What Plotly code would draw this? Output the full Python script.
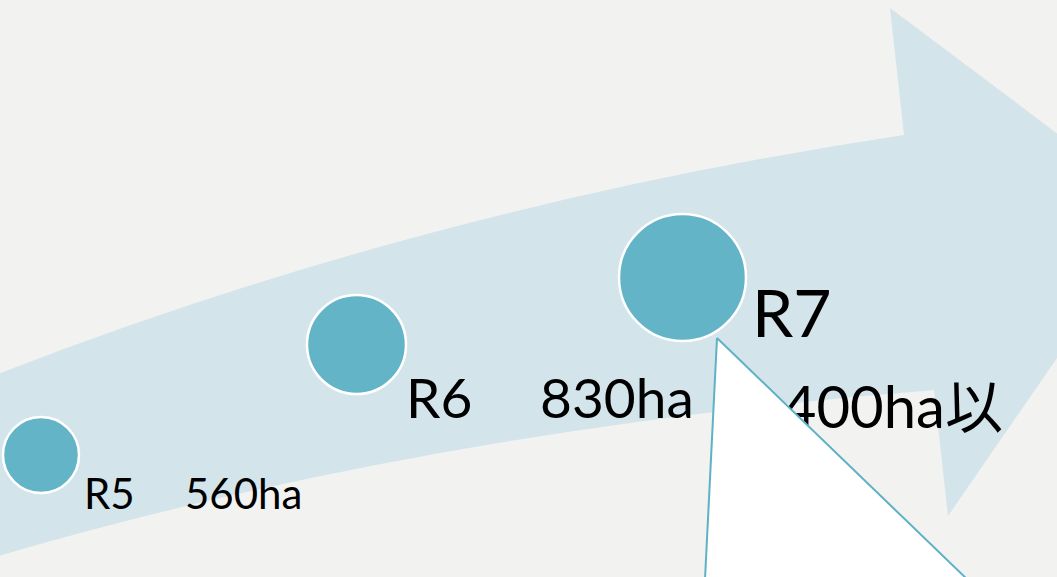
import plotly.graph_objects as go

# ---- data ----
regions = ["R5", "R6", "R7"]
areas_ha = [560, 830, 1400]
area_labels = ["560ha", "830ha", "1,400ha以<br>上"]

# diagram coordinates (pixel-like units on a 1057 x 577 canvas)
circle_x = [41, 356.5, 682.5]
circle_y = [455, 344.5, 277.5]
circle_size = [76, 99, 127]

name_x = [84, 406, 752]
name_base = [509, 418, 337]
name_fs = [42, 55, 66]

value_x = [185, 540, 736]
value_base = [509, 418, 428]
value_fs = [42, 55, 58]

BG = "#f2f2f0"
ARROW = "#d3e4eb"
DOT = "#63b4c7"
FONT = "Lato, 'Noto Sans CJK JP', sans-serif"

fig = go.Figure()

# big curved arrow (background decoration)
arrow_path = ("M -2,374 Q 427,207 904,135 L 890,8 L 1159,210 L 948,516 "
              "L 934,390 Q 430,430 -2,556 Z")
fig.add_shape(type="path", path=arrow_path, xref="x", yref="y",
              fillcolor=ARROW, opacity=1, line=dict(width=0), layer="below")

# circles
fig.add_trace(go.Scatter(
    x=circle_x, y=circle_y, mode="markers",
    marker=dict(size=circle_size, color=DOT, opacity=1,
                line=dict(color="white", width=2.5)),
    hoverinfo="skip"))

# region names
fig.add_trace(go.Scatter(
    x=name_x, y=[b - 0.75 * f for b, f in zip(name_base, name_fs)],
    mode="text", text=regions, textposition="bottom right",
    textfont=dict(family=FONT, size=name_fs, color="black"),
    hoverinfo="skip"))

# area values
fig.add_trace(go.Scatter(
    x=value_x, y=[b - 0.75 * f for b, f in zip(value_base, value_fs)],
    mode="text", text=area_labels, textposition="bottom right",
    textfont=dict(family=FONT, size=value_fs, color="black"),
    hoverinfo="skip"))

# white callout triangle on top
tri_x = [717, 694, 1196, 717]
tri_y = [338, 800, 800, 338]
fig.add_trace(go.Scatter(
    x=tri_x, y=tri_y, mode="lines", fill="toself", fillcolor="white",
    line=dict(color="#5fb1c5", width=2), hoverinfo="skip"))

fig.update_layout(
    width=1057, height=577,
    margin=dict(l=0, r=0, t=0, b=0),
    paper_bgcolor=BG, plot_bgcolor=BG,
    showlegend=False,
    xaxis=dict(range=[0, 1057], visible=False, fixedrange=True),
    yaxis=dict(range=[577, 0], visible=False, fixedrange=True),
)

fig.write_html("out.html", config={"displayModeBar": False})
